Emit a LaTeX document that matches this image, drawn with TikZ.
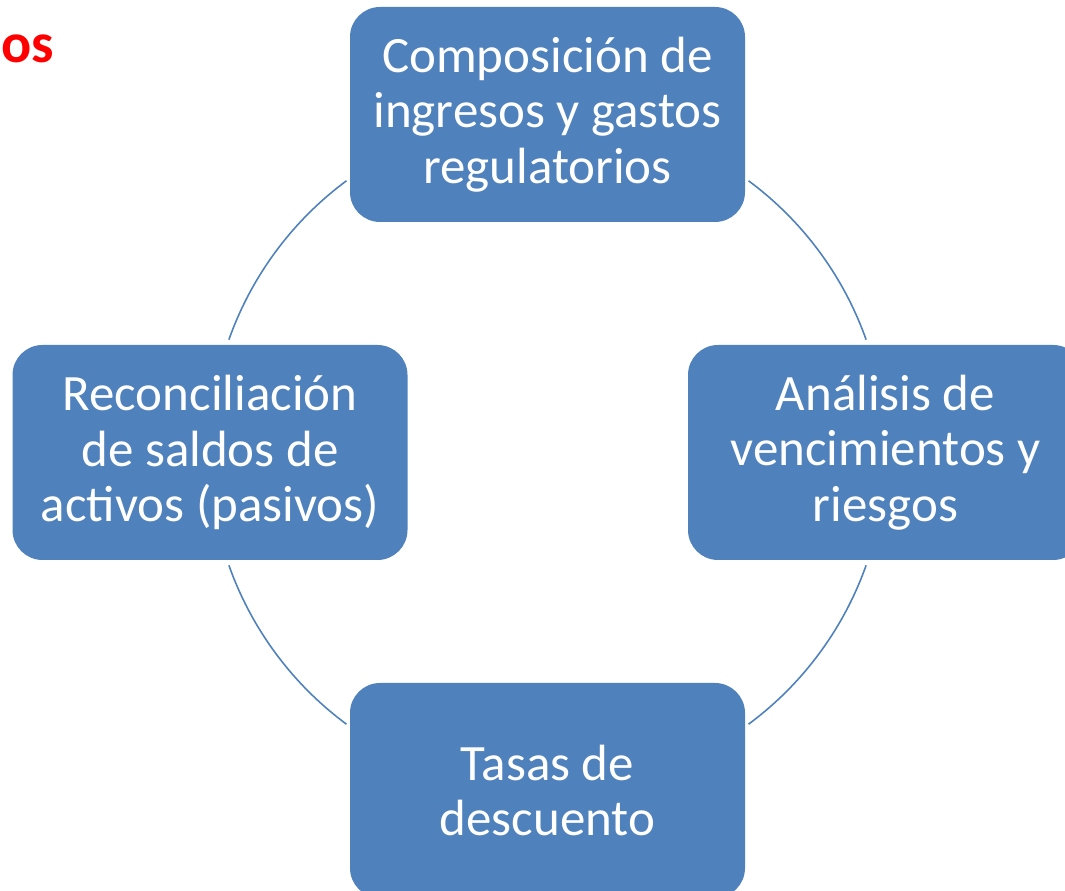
\documentclass[tikz,border=0pt]{standalone}
\usepackage{fontspec}
\setmainfont{Carlito}
\usetikzlibrary{positioning}
\definecolor{boxblue}{HTML}{4F81BD}
\definecolor{titlered}{HTML}{FF0000}

\begin{document}
\begin{tikzpicture}[
        step box/.style={rectangle, rounded corners=0.6cm, fill=boxblue, draw=none,
            minimum width=7.9cm, minimum height=4.3cm, text=white, align=center,
            font=\fontsize{29}{31.5}\selectfont},
        link/.style={draw=boxblue, line width=0.9pt},
    ]
    \useasboundingbox (0,0) rectangle (21.3,17.82);
    \clip (0,0) rectangle (21.3,17.82);

        % Centre of the cycle
        \coordinate (C) at (10.95,8.77);

        % Draw the four boxes round the cycle
        \node[step box] (top) at (10.95,15.53) {Composición de\\ingresos y gastos\\regulatorios};
        \node[step box] (right) at (17.71,8.77) {Análisis de\\vencimientos y\\riesgos};
        \node[step box] (bottom) at (10.95,2.01) {Tasas de\\descuento};
        \node[step box] (left) at (4.2,8.77) {Reconciliación\\de saldos de\\activos (pasivos)};

        % Red title, cut off at the left
        \node[anchor=west, text=titlered, inner sep=0pt, font=\fontsize{32}{38}\selectfont\bfseries] (title) at (0.02,16.85) {os};

        % Connect the boxes with arcs of one circle
        \foreach \from / \to in {19.5/53.5, 126.5/160.5, 199.5/233.5, 306.5/340.5}
            \draw[link] ([shift={(\from:6.76)}]C) arc[start angle=\from, end angle=\to, radius=6.76];
    \end{tikzpicture}
\end{document}
